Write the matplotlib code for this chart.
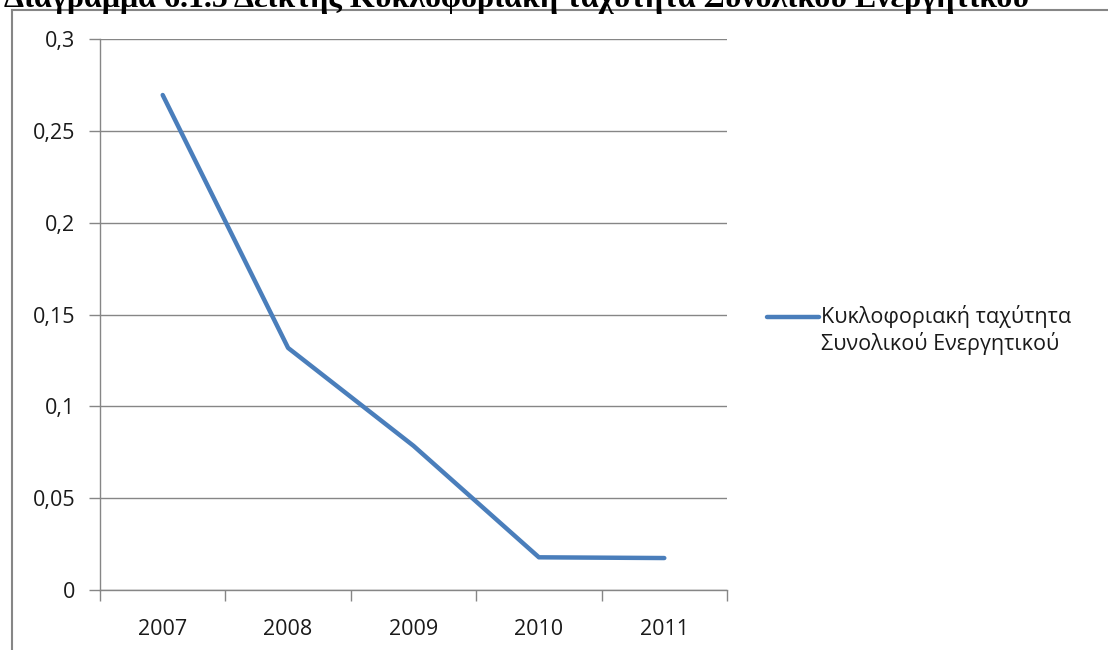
import matplotlib
matplotlib.use("Agg")
import matplotlib.pyplot as plt
from matplotlib.lines import Line2D

# data
years = ["2007", "2008", "2009", "2010", "2011"]
values = [0.2695, 0.1318, 0.0785, 0.0178, 0.0174]
yticks = [0, 0.05, 0.1, 0.15, 0.2, 0.25, 0.3]
ytick_labels = ["0", "0,05", "0,1", "0,15", "0,2", "0,25", "0,3"]
series_name = "Κυκλοφοριακή ταχύτητα\nΣυνολικού Ενεργητικού"
title = "Διάγραμμα 6.1.5 Δείκτης Κυκλοφοριακή ταχύτητα Συνολικού Ενεργητικού"

W, H = 1108, 650
fig = plt.figure(figsize=(W / 100, H / 100), dpi=100)
plt.rcParams["font.family"] = ["Open Sans", "DejaVu Sans"]

grey = "#868686"
txt = "#1a1a1a"
fs = 15.5

# outer chart frame (only left and top visible)
fig.add_artist(Line2D([12 / W, 12 / W], [0, 1 - 10 / H], color=grey, lw=1.5, transform=fig.transFigure))
fig.add_artist(Line2D([12 / W, 1], [1 - 10 / H, 1 - 10 / H], color=grey, lw=1.5, transform=fig.transFigure))

# title, cut off at the top like the reference
fig.text(4 / W, 1 - 7 / H, title, fontsize=23, fontweight="bold",
         family="Liberation Serif", va="baseline", ha="left")

ax = fig.add_axes([100 / W, 60 / H, 627 / W, 551 / H])
x = list(range(len(years)))
ax.plot(x, values, color="#4A7EBB", lw=3.2, solid_capstyle="round", solid_joinstyle="round",
        label=series_name, zorder=3)

ax.set_xlim(-0.5, len(years) - 0.5)
ax.set_ylim(0, 0.3)
ax.set_yticks(yticks)
ax.set_yticklabels(ytick_labels)
ax.set_xticks(x)
ax.set_xticklabels(years)
ax.set_xticks([i - 0.5 for i in range(len(years) + 1)], minor=True)
ax.tick_params(axis="x", which="major", length=0, pad=21, labelsize=fs, colors=txt)
ax.tick_params(axis="x", which="minor", length=8, color=grey, width=1)
ax.tick_params(axis="y", length=8, color=grey, width=1, pad=10, labelsize=fs, labelcolor=txt)
ax.grid(axis="y", color=grey, lw=1, zorder=0)

for s in ["top", "right"]:
    ax.spines[s].set_visible(False)
for s in ["left", "bottom"]:
    ax.spines[s].set_color(grey)
    ax.spines[s].set_linewidth(1)

leg = ax.legend(loc="center left", bbox_to_anchor=(767 / W, 1 - 330 / H), bbox_transform=fig.transFigure,
                frameon=False, fontsize=fs, handlelength=2.4, handletextpad=0.1,
                borderaxespad=0, borderpad=0)
for t in leg.get_texts():
    t.set_color(txt)
    t.set_linespacing(1.25)
# the handle sits level with the first text line, as in Excel
hl = leg.get_lines()[0]
hl.set_ydata([y + 9.7 for y in hl.get_ydata()])

fig.savefig("out.png", dpi=100)
